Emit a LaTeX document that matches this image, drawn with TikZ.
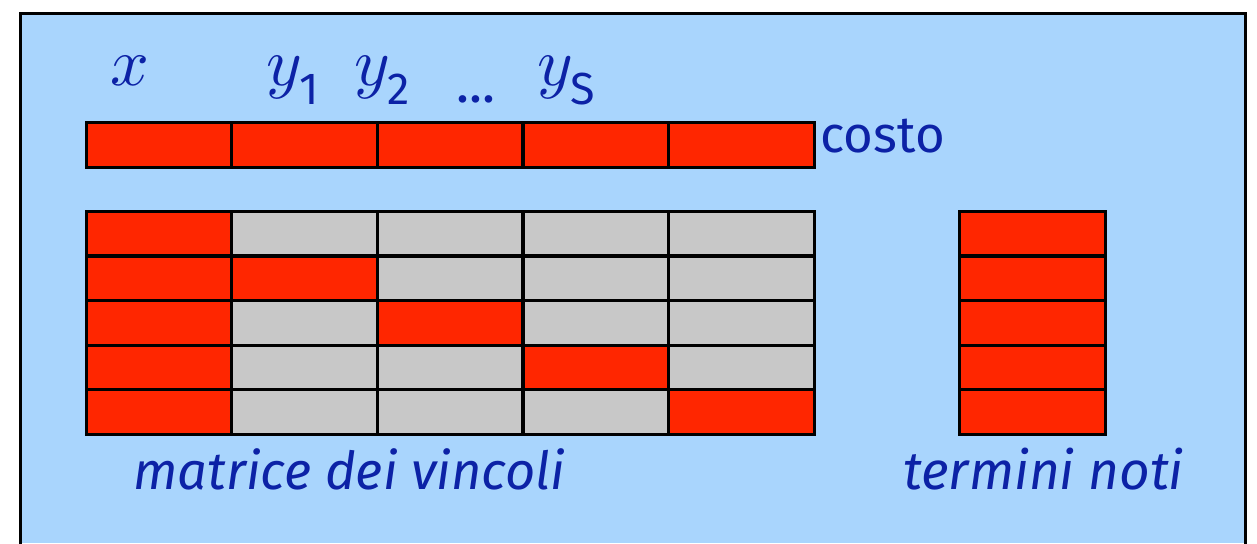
\documentclass[tikz,border=0pt]{standalone}
\usepackage{amsmath}
\usepackage{graphicx}
\usepackage{fontspec}
\setsansfont{Fira Sans}
\newfontfamily\lblfont{Fira Sans}
\usetikzlibrary{positioning}

\definecolor{panelblue}{RGB}{169,213,253}
\definecolor{cellred}{RGB}{255,38,0}
\definecolor{cellgray}{RGB}{200,200,200}
\definecolor{inkblue}{RGB}{12,34,166}

\newcommand{\bigvar}[1]{\scalebox{3.4}{$#1$}}
\newcommand{\sub}[1]{\raisebox{-1.3pt}{\fontsize{6.6}{8}\selectfont\sffamily #1}}

\begin{document}
\begin{tikzpicture}[x=0.5pt, y=-0.5pt]
\tikzstyle{cell} = [rectangle, draw, line width=1.6pt, inner sep=0pt, outer sep=0pt, minimum width=72.8pt, minimum height=22.3pt]
\tikzstyle{lbl} = [inner sep=0pt, anchor=base west, text=inkblue, font=\lblfont\fontsize{25.5}{30}\selectfont]
\tikzstyle{lblit} = [lbl, font=\lblfont\itshape\fontsize{26.6}{32}\selectfont]
\tikzstyle{var} = [inner sep=0pt, anchor=base west, text=inkblue]

\useasboundingbox (0,0) rectangle (1257,543);
\fill[panelblue] (20,13) rectangle (1245,543);
\draw[line width=1.5pt] (20,545) -- (20,13) -- (1245,13) -- (1245,545);

% cost row
\foreach \j in {1,...,5}
  \node[cell, fill=cellred] (c\j) at ({13.4+145.6*\j},145) {};

% constraint matrix
\foreach \i in {1,...,5}{
  \foreach \j in {1,...,5}{
    \ifnum\j=1 \def\fc{cellred}\else\ifnum\j=\i \def\fc{cellred}\else\def\fc{cellgray}\fi\fi
    \node[cell, fill=\fc] (m\i\j) at ({13.4+145.6*\j},{189+44.6*\i}) {};
  }
}

% right hand side
\foreach \i in {1,...,5}
  \node[cell, fill=cellred] (b\i) at (1032.5,{189+44.6*\i}) {};

% variables
\node[var] (vx) at (110,85) {\bigvar{x}};
\node[var] (vy1) at (266,85) {\bigvar{y_{\sub{1}}}};
\node[var] (vy2) at (354,85) {\bigvar{y_{\sub{2}}}};
\node[var, font=\sffamily\fontsize{27}{30}\selectfont] (vdots) at (456,102) {...};
\node[var] (vys) at (537,85) {\bigvar{y_{\sub{S}}}};

\node[lbl] (costo) at (820,152) {costo};
\node[lblit, font=\lblfont\itshape\fontsize{26.2}{32}\selectfont] (mat) at (133,489) {matrice dei vincoli};
\node[lblit] (noti) at (903,489) {termini noti};
\end{tikzpicture}
\end{document}
